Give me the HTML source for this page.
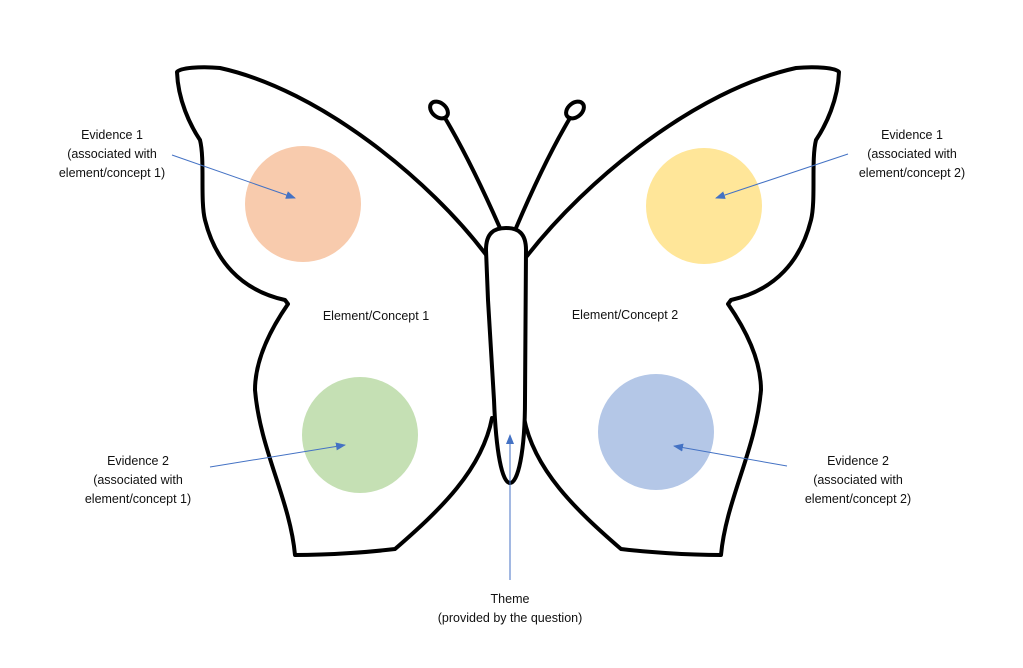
<!DOCTYPE html>
<html><head><meta charset="utf-8"><style>
html,body{margin:0;padding:0;background:#fff;}
svg{display:block;}
text{font-family:"Liberation Sans",sans-serif;font-size:12.5px;fill:#111;}
</style></head><body>
<svg width="1023" height="668" viewBox="0 0 1023 668" xmlns="http://www.w3.org/2000/svg">
<defs><marker id="a" markerWidth="10" markerHeight="8" refX="9" refY="4" orient="auto" markerUnits="userSpaceOnUse"><path d="M0,0 L10,4 L0,8 Z" fill="#4472c4"/></marker></defs>
<g fill="none" stroke="#000" stroke-width="4" stroke-linejoin="round" stroke-linecap="round">
<path d="M 487 256 C 430 180, 320 90, 220 68 C 200 66, 180 68, 177 72 C 178 100, 190 125, 200 140 C 205 160, 200 200, 205 220 C 215 260, 240 290, 285 300 L 288 304 C 270 330, 255 360, 255 390 C 260 450, 290 500, 295 555 C 330 555, 370 552, 395 549 C 440 510, 482 470, 492 418"/>
<path d="M 527 256 C 586 180, 696 90, 796 68 C 816 66, 836 68, 839 72 C 838 100, 826 125, 816 140 C 811 160, 816 200, 811 220 C 801 260, 776 290, 731 300 L 728 304 C 746 330, 761 360, 761 390 C 756 450, 726 500, 721 555 C 686 555, 646 552, 621 549 C 576 510, 534 470, 524 418"/>
<path d="M 500 228 Q 470 160 445 118"/>
<path d="M 516 228 Q 545 160 570 118"/>
<path d="M 486 250 C 486 233 494 228 506 228 C 518 228 526 233 526 250 L 525 400 C 525 452 518 483 510 483 C 502 483 496 452 494 400 L 488 300 Z" fill="#fff"/>
<ellipse cx="439" cy="110" rx="10" ry="7" transform="rotate(40 439 110)"/>
<ellipse cx="575" cy="110" rx="10" ry="7" transform="rotate(-40 575 110)"/>
</g>
<circle cx="303" cy="204" r="58" fill="#f8cbad"/>
<circle cx="360" cy="435" r="58" fill="#c5e0b4"/>
<circle cx="704" cy="206" r="58" fill="#ffe699"/>
<circle cx="656" cy="432" r="58" fill="#b4c7e7"/>
<g stroke="#4472c4" stroke-width="1" fill="none">
<line x1="172" y1="155" x2="295" y2="198" marker-end="url(#a)"/>
<line x1="210" y1="467" x2="345" y2="445" marker-end="url(#a)"/>
<line x1="848" y1="154" x2="716" y2="198" marker-end="url(#a)"/>
<line x1="787" y1="466" x2="674" y2="446" marker-end="url(#a)"/>
<line x1="510" y1="580" x2="510" y2="435" marker-end="url(#a)"/>
</g>
<g text-anchor="middle">
<text x="112" y="139">Evidence 1</text><text x="112" y="158">(associated with</text><text x="112" y="177">element/concept 1)</text>
<text x="912" y="139">Evidence 1</text><text x="912" y="158">(associated with</text><text x="912" y="177">element/concept 2)</text>
<text x="138" y="465">Evidence 2</text><text x="138" y="484">(associated with</text><text x="138" y="503">element/concept 1)</text>
<text x="858" y="465">Evidence 2</text><text x="858" y="484">(associated with</text><text x="858" y="503">element/concept 2)</text>
<text x="376" y="320">Element/Concept 1</text>
<text x="625" y="319">Element/Concept 2</text>
<text x="510" y="603">Theme</text><text x="510" y="622">(provided by the question)</text>
</g>
</svg>
</body></html>
